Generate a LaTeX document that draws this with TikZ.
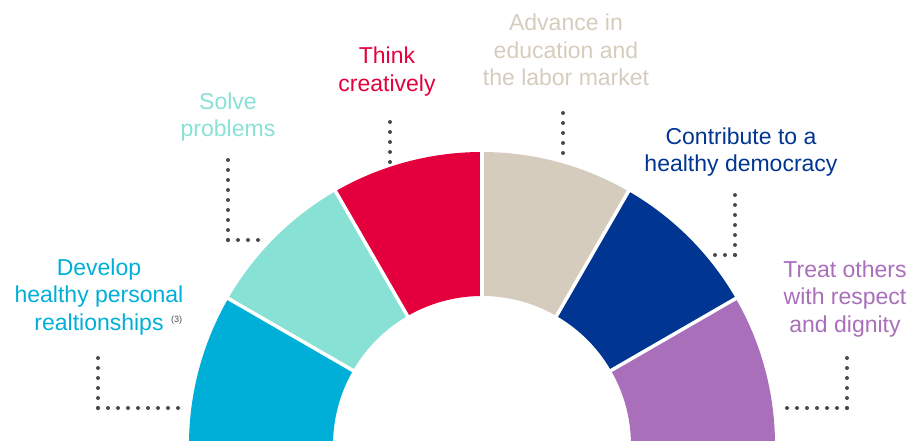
\documentclass[tikz,border=0pt]{standalone}
\usepackage{fontspec}
\setmainfont{Liberation Sans}
\definecolor{cyanseg}{HTML}{00AFD8}
\definecolor{aquaseg}{HTML}{88E1D5}
\definecolor{redseg}{HTML}{E4003C}
\definecolor{beigeseg}{HTML}{D5CCBD}
\definecolor{navyseg}{HTML}{003591}
\definecolor{purpleseg}{HTML}{A96FBA}
\definecolor{dotgray}{HTML}{4A4A4A}
\begin{document}
\begin{tikzpicture}[x=1pt,y=1pt,
  lbl/.style={align=center, anchor=base, inner sep=0pt,
    font=\fontsize{23}{27.5}\selectfont},
  leader/.style={draw=dotgray, line width=4pt, line cap=round,
    dash pattern=on 0pt off 10pt},
  gap/.style={draw=white, line width=3.5pt}]
\useasboundingbox (0,0) rectangle (911,440);
\clip (0,0) rectangle (911,440);

% centre of the half ring
\coordinate (O) at (482,-5);

% ring segments
\foreach \a/\b/\c in {150/180/cyanseg,120/150/aquaseg,90/120/redseg,
                      60/90/beigeseg,30/60/navyseg,0/30/purpleseg}
  \fill[\c] ([shift={(\a:149)}]O) arc[start angle=\a, end angle=\b, radius=149]
    -- ([shift={(\b:293)}]O) arc[start angle=\b, end angle=\a, radius=293] -- cycle;

% white separators
\foreach \a in {30,60,90,120,150}
  \draw[gap] ([shift={(\a:145)}]O) -- ([shift={(\a:297)}]O);

% labels (anchored at the baseline of their last line)
\node[lbl, text=cyanseg] (develop) at (99,110) {Develop\\healthy personal\\realtionships};
\node[anchor=base west, inner sep=0pt, text=dotgray,
  font=\fontsize{9}{9}\selectfont] (note) at (171,118) {(3)};
\node[lbl, text=aquaseg] (solve) at (228,303) {Solve\\problems};
\node[lbl, text=redseg] (think) at (387,348.5) {Think\\creatively};
\node[lbl, text=beigeseg] (advance) at (566,354) {Advance in\\education and\\the labor market};
\node[lbl, text=navyseg] (contribute) at (741,268) {Contribute to a\\healthy democracy};
\node[lbl, text=purpleseg] (treat) at (845,108) {Treat others\\with respect\\and dignity};

% leader ends
\coordinate (dev-top) at (98,92);
\coordinate (dev-corner) at (98,32);
\coordinate (dev-end) at (186,32);
\coordinate (sol-top) at (228,282);
\coordinate (sol-corner) at (228,200);
\coordinate (sol-end) at (262,200);
\coordinate (thk-top) at (390,328);
\coordinate (thk-end) at (390,278);
\coordinate (adv-top) at (563,335);
\coordinate (adv-end) at (563,287);
\coordinate (con-top) at (735,251);
\coordinate (con-corner) at (735,185);
\coordinate (con-end) at (713,185);
\coordinate (trt-top) at (847,92);
\coordinate (trt-corner) at (847,32);
\coordinate (trt-end) at (778,32);

% dotted leaders
\draw[leader] (dev-corner) -- (dev-top);
\draw[leader] (dev-corner) -- (dev-end);
\draw[leader] (sol-corner) -- (sol-top);
\draw[leader] (sol-corner) -- (sol-end);
\draw[leader] (thk-end) -- (thk-top);
\draw[leader] (adv-end) -- (adv-top);
\draw[leader] (con-corner) -- (con-top);
\draw[leader] (con-corner) -- (con-end);
\draw[leader] (trt-corner) -- (trt-top);
\draw[leader] (trt-corner) -- (trt-end);
\end{tikzpicture}
\end{document}
